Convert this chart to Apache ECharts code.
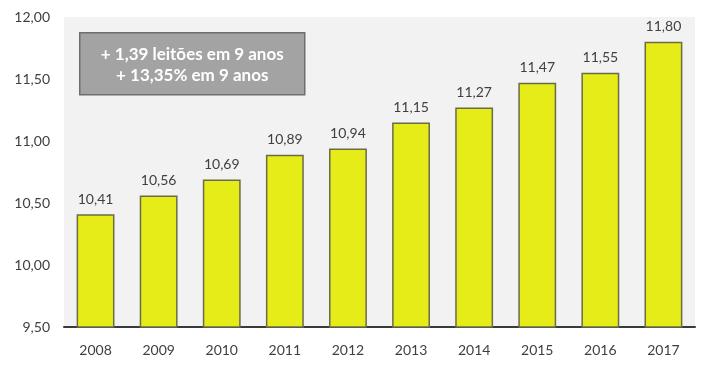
<!DOCTYPE html>
<html><head><meta charset="utf-8">
<script src="https://cdn.jsdelivr.net/npm/echarts@6/dist/echarts.min.js"></script>
<style>html,body{margin:0;padding:0;background:#fff}#c{width:714px;height:368px}</style>
</head><body><div id="c"></div>
<script>
const categories = ['2008','2009','2010','2011','2012','2013','2014','2015','2016','2017'];
const values = [10.41,10.56,10.69,10.89,10.94,11.15,11.27,11.47,11.55,11.80];
const yTicks = [9.5,10,10.5,11,11.5,12];
const noteLines = ['+ 1,39 leitões em 9 anos','+ 13,35% em 9 anos'];
const fmt = v => v.toFixed(2).replace('.', ',');
const FONT = 'Lato, "Open Sans", sans-serif';
const chart = echarts.init(document.getElementById('c'), null, {renderer:'canvas'});
chart.setOption({
  animation:false,
  backgroundColor:'#fff',
  grid:{left:64,right:19,top:17,bottom:41,show:true,backgroundColor:'#f2f2f2',borderWidth:0},
  xAxis:{type:'category',data:categories,
    axisLine:{lineStyle:{color:'#3a3a3a',width:2}},axisTick:{show:false},
    axisLabel:{color:'#404040',fontFamily:FONT,fontSize:14,margin:16}},
  yAxis:{type:'value',min:yTicks[0],max:yTicks[yTicks.length-1],interval:0.5,
    axisLine:{show:false},axisTick:{show:false},splitLine:{show:false},
    axisLabel:{color:'#404040',fontFamily:FONT,fontSize:14,margin:14,formatter:v=>fmt(v)}},
  series:[{type:'bar',data:values,barCategoryGap:'40%',
    itemStyle:{color:'#e6ec17',borderColor:'#6b6b4a',borderWidth:1.5},
    label:{show:true,position:'top',distance:8,color:'#404040',fontFamily:FONT,fontSize:14,formatter:p=>fmt(p.value)}}],
  graphic:[{type:'group',left:79,top:32,children:[
    {type:'rect',shape:{x:0,y:0,width:225,height:62},style:{fill:'#a3a3a3',stroke:'#6e6e6e',lineWidth:1.5}},
    {type:'text',x:112.5,y:22,style:{text:noteLines[0],fill:'#fff',font:'bold 17px '+FONT,align:'center',verticalAlign:'middle'}},
    {type:'text',x:112.5,y:43,style:{text:noteLines[1],fill:'#fff',font:'bold 17px '+FONT,align:'center',verticalAlign:'middle'}}
  ]}]
});
</script></body></html>
